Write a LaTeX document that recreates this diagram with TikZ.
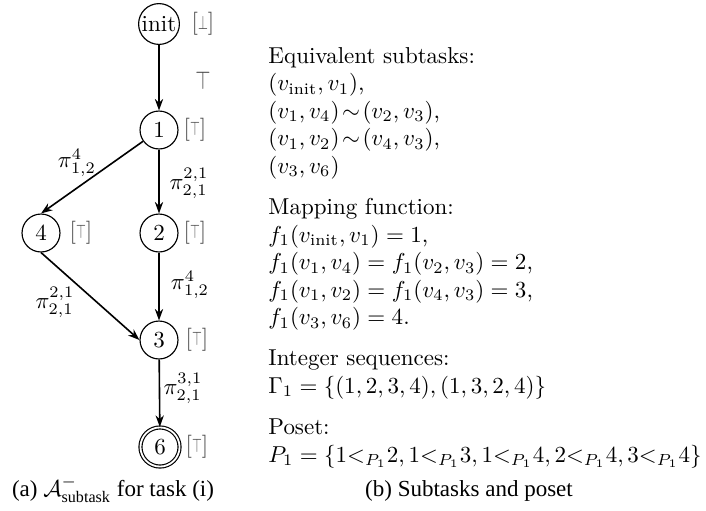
\documentclass[tikz,border=0pt]{standalone}
\usepackage{amsmath}
\usepackage{graphicx}
\usepackage{fontspec}
\newfontfamily\capfont{Liberation Serif}
\usetikzlibrary{arrows.meta}
\newcommand{\mytop}{\scalebox{0.55}[0.85]{$\top$}}
\newcommand{\mybot}{\scalebox{0.55}[0.85]{$\bot$}}
\begin{document}
\begin{tikzpicture}[x=0.4348pt,y=-0.4348pt,
  st/.style={circle,draw,line width=0.5pt,minimum size=16.5pt,inner sep=0.5pt,font=\normalsize},
  acc/.style={st,double,double distance=0.8pt,minimum size=17pt},
  tl/.style={text=black!72,inner sep=0pt},
  el/.style={inner sep=0pt},
  arr/.style={-{Stealth[length=5pt,width=3.6pt]},line width=0.7pt},
  txt/.style={anchor=base west,inner sep=0pt},
  captxt/.style={anchor=base,inner sep=0pt,font=\capfont}]
\useasboundingbox (0,0) rectangle (706,510);
% automaton
\node[st] (init) at (159,24) {init};
\node[st] (n1) at (159,130) {1};
\node[st] (n4) at (41,233) {4};
\node[st] (n2) at (159,233) {2};
\node[st] (n3) at (159,340) {3};
\node[acc] (n6) at (160,447) {6};
% state labels
\node[tl] (linit) at (203,24) {$[$\mybot$]$};
\node[tl] (l1) at (195,130) {$[$\mytop$]$};
\node[tl] (l4) at (81,233) {$[$\mytop$]$};
\node[tl] (l2) at (195,233) {$[$\mytop$]$};
\node[tl] (l3) at (197,340) {$[$\mytop$]$};
\node[tl] (l6) at (197,447) {$[$\mytop$]$};
\node[tl] (T) at (203,81) {\scalebox{0.85}[1.12]{$\top$}};
% edges
\draw[arr] (init) -- (n1);
\draw[arr] (n1) -- (n4.north);
\draw[arr] (n1) -- (n2);
\draw[arr] (n4.south) -- (n3.west);
\draw[arr] (n2) -- (n3);
\draw[arr] (n3) -- (n6);
% edge labels
\node[el] (p14) at (77,163) {$\pi^{4}_{1,2}$};
\node[el] (p12) at (189,183) {$\pi^{2,1}_{2,1}$};
\node[el] (p23) at (190,285) {$\pi^{4}_{1,2}$};
\node[el] (p43) at (55,302) {$\pi^{2,1}_{2,1}$};
\node[el] (p36) at (183,388) {$\pi^{3,1}_{2,1}$};
% right text
\node[txt] (t1) at (268,63) {Equivalent subtasks:};
\node[txt] (t2) at (268,90.6) {$(v_{\mathrm{init}}, v_1)$,};
\node[txt] (t3) at (268,118.2) {$(v_1, v_4)\!\sim\!(v_2, v_3)$,};
\node[txt] (t4) at (268,145.8) {$(v_1, v_2)\!\sim\!(v_4, v_3)$,};
\node[txt] (t5) at (268,173.4) {$(v_3, v_6)$};
\node[txt] (t6) at (268,214.4) {Mapping function:};
\node[txt] (t7) at (268,242) {$f_1(v_{\mathrm{init}}, v_1) = 1$,};
\node[txt] (t8) at (268,269.6) {$f_1(v_1, v_4) = f_1(v_2, v_3) = 2$,};
\node[txt] (t9) at (268,297.2) {$f_1(v_1, v_2) = f_1(v_4, v_3) = 3$,};
\node[txt] (t10) at (268,324.8) {$f_1(v_3, v_6) = 4$.};
\node[txt] (t11) at (268,365.8) {Integer sequences:};
\node[txt] (t12) at (268,393.4) {$\Gamma_1 = \{(1,2,3,4),(1,3,2,4)\}$};
\node[txt] (t13) at (268,434.4) {Poset:};
\node[txt] (t14) at (268,462) {$P_1 = \{1{<_{P_1}}2, 1{<_{P_1}}3, 1{<_{P_1}}4, 2{<_{P_1}}4, 3{<_{P_1}}4\}$};
% captions
\node[captxt] (capa) at (113,496) {(a) $\mathcal{A}^{-}_{\text{subtask}}$ for task (i)};
\node[captxt] (capb) at (469,496) {(b) Subtasks and poset};
\end{tikzpicture}
\end{document}
